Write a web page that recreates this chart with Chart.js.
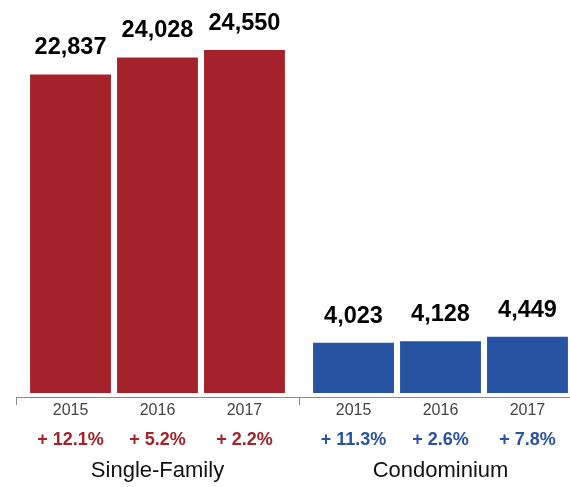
<!DOCTYPE html>
<html>
<head>
<meta charset="utf-8">
<script src="https://cdn.jsdelivr.net/npm/chart.js@4/dist/chart.umd.min.js"></script>
<style>
  html, body { margin: 0; padding: 0; background: #fff; overflow: hidden; }
  #wrap { width: 570px; height: 487px; overflow: hidden; }
</style>
</head>
<body>
<div id="wrap"><canvas id="sales" width="600" height="487"></canvas></div>
<script>
// ventes par type de logement
const categories = ['Single-Family', 'Condominium'];
const years = ['2015', '2016', '2017'];
const singleFamily = [22837, 24028, 24550];
const condominium = [4023, 4128, 4449];
const singleFamilyChange = ['+ 12.1%', '+ 5.2%', '+ 2.2%'];
const condominiumChange = ['+ 11.3%', '+ 2.6%', '+ 7.8%'];

const RED = '#a5222b';
const BLUE = '#2753a2';
const FONT = '"Liberation Sans", Arial, Helvetica, sans-serif';

const fmt = v => v.toLocaleString('en-US');

// une série par année, couleur selon la catégorie
const datasets = years.map((y, i) => ({
  label: y,
  data: [singleFamily[i], condominium[i]],
  backgroundColor: [RED, BLUE],
  change: [singleFamilyChange[i], condominiumChange[i]]
}));

// textes : valeurs au-dessus, années + variations en dessous, axe
const labelsPlugin = {
  id: 'labels',
  afterDatasetsDraw(chart) {
    const ctx = chart.ctx;
    const area = chart.chartArea;
    const xs = chart.scales.x;
    const axisY = area.bottom + 4;
    ctx.save();

    // ligne d'axe + petits traits entre les groupes
    ctx.strokeStyle = '#8a8a8a';
    ctx.lineWidth = 1;
    ctx.beginPath();
    ctx.moveTo(area.left, axisY + 0.5);
    ctx.lineTo(area.right, axisY + 0.5);
    const edges = [area.left, (xs.getPixelForValue(0) + xs.getPixelForValue(1)) / 2, area.right];
    edges.forEach(x => {
      const px = Math.round(x) + 0.5;
      ctx.moveTo(px, axisY);
      ctx.lineTo(px, axisY + 8);
    });
    ctx.stroke();

    ctx.textAlign = 'center';
    chart.data.datasets.forEach((ds, i) => {
      chart.getDatasetMeta(i).data.forEach((bar, j) => {
        ctx.fillStyle = '#000';
        ctx.font = 'bold 23.5px ' + FONT;
        ctx.textBaseline = 'alphabetic';
        ctx.fillText(fmt(ds.data[j]), bar.x, bar.y - 20);

        ctx.textBaseline = 'middle';
        ctx.fillStyle = '#444';
        ctx.font = '16px ' + FONT;
        ctx.fillText(ds.label, bar.x, axisY + 14);

        ctx.fillStyle = j === 0 ? RED : BLUE;
        ctx.font = 'bold 18px ' + FONT;
        ctx.fillText(ds.change[j], bar.x, axisY + 43);
      });
    });

    ctx.fillStyle = '#111';
    ctx.font = '22px ' + FONT;
    categories.forEach((c, j) => {
      ctx.fillText(c, xs.getPixelForValue(j), axisY + 74);
    });
    ctx.restore();
  }
};

new Chart(document.getElementById('sales'), {
  type: 'bar',
  data: { labels: categories, datasets },
  options: {
    responsive: false,
    animation: false,
    layout: { padding: { top: 15, left: 16, right: 18, bottom: 94 } },
    categoryPercentage: 0.922,
    barPercentage: 0.93,
    plugins: { legend: { display: false }, tooltip: { enabled: false } },
    scales: {
      x: { display: false },
      y: { display: false, min: 500, max: 27000 }
    }
  },
  plugins: [labelsPlugin]
});
</script>
</body>
</html>
